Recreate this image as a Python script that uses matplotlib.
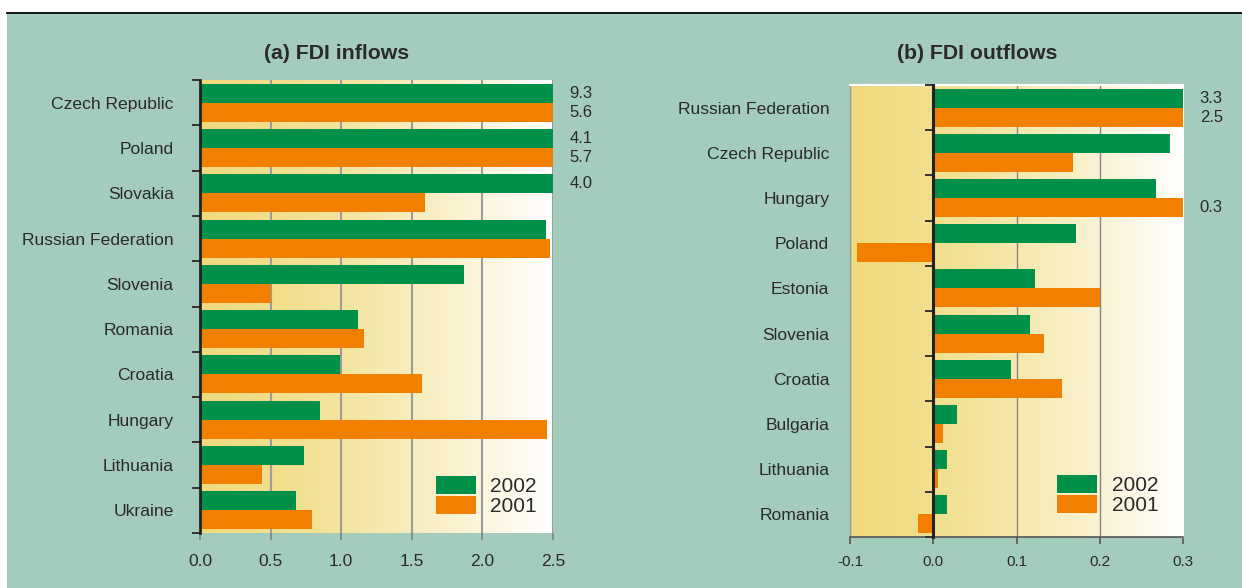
import numpy as np
import matplotlib
matplotlib.use("Agg")
import matplotlib.pyplot as plt
from matplotlib.colors import LinearSegmentedColormap
from matplotlib.patches import Rectangle
from matplotlib.lines import Line2D

plt.rcParams['font.family'] = ['Liberation Sans', 'DejaVu Sans']

# data (% of GDP)
inflow_countries = ["Czech Republic", "Poland", "Slovakia", "Russian Federation", "Slovenia",
                    "Romania", "Croatia", "Hungary", "Lithuania", "Ukraine"]
inflow_2002 = [9.3, 4.1, 4.0, 2.45, 1.87, 1.12, 0.99, 0.85, 0.74, 0.68]
inflow_2001 = [5.6, 5.7, 1.59, 2.48, 0.50, 1.16, 1.57, 2.46, 0.44, 0.79]
inflow_ticks = [0.0, 0.5, 1.0, 1.5, 2.0, 2.5]

outflow_countries = ["Russian Federation", "Czech Republic", "Hungary", "Poland", "Estonia",
                     "Slovenia", "Croatia", "Bulgaria", "Lithuania", "Romania"]
outflow_2002 = [3.3, 0.284, 0.267, 0.172, 0.122, 0.116, 0.093, 0.029, 0.017, 0.017]
outflow_2001 = [2.5, 0.168, 0.31, -0.091, 0.200, 0.133, 0.155, 0.012, 0.006, -0.018]
outflow_ticks = [-0.1, 0.0, 0.1, 0.2, 0.3]

years = ["2002", "2001"]

GREEN = "#00904a"
ORANGE = "#f28000"
BG = "#a4ccbc"
TXT = "#2a2a2a"

cmap = LinearSegmentedColormap.from_list(
    "fade", ["#f0da7c", "#f3e296", "#f9efc6", "#ffffff"])

fig = plt.figure(figsize=(12.42, 5.88), dpi=100, facecolor="white")
fig.add_artist(Rectangle((7 / 1242, 0), 1, 1 - 14 / 588, transform=fig.transFigure,
                         facecolor=BG, edgecolor="none", zorder=-10))
fig.add_artist(Line2D([7 / 1242, 1], [1 - 13 / 588, 1 - 13 / 588], transform=fig.transFigure,
                      color="black", lw=1.3))


def panel(rect, names, v02, v01, ticks, xlim, title, title_x, lbl_pad, tick_fs, tick_pad,
          leg_anchor, grid_lw, grid_col):
    ax = fig.add_axes(rect)
    n = len(names)
    y = np.arange(n)
    ax.set_xlim(*xlim)
    ax.set_ylim(n - 0.5, -0.5)

    grad = np.linspace(0, 1, 256).reshape(1, -1)
    ax.imshow(grad, cmap=cmap, extent=[xlim[0], xlim[1], n - 0.5, -0.5],
              aspect="auto", zorder=0, interpolation="bilinear")

    h = 0.42
    b1 = ax.barh(y - h / 2, v02, height=h, color=GREEN, zorder=3, label=years[0])
    b2 = ax.barh(y + h / 2, v01, height=h, color=ORANGE, zorder=3, label=years[1])

    # labels for bars running past the scale
    for bars, vals in ((b1, v02), (b2, v01)):
        for rect_, v in zip(bars, vals):
            if v >= xlim[1]:
                yc = rect_.get_y() + rect_.get_height() / 2
                ax.annotate(f"{v:.1f}", xy=(xlim[1], yc), xytext=(12, 0),
                            textcoords="offset points", va="center", ha="left",
                            fontsize=12, color=TXT, annotation_clip=False)

    ax.set_xticks(ticks)
    ax.set_xticklabels([f"{t:.1f}" for t in ticks])
    ax.xaxis.grid(True, color=grid_col, lw=grid_lw, zorder=1)
    ax.set_axisbelow(True)
    ax.tick_params(axis="x", length=5, width=1.2, color="#808080",
                   labelsize=tick_fs, labelcolor=TXT, pad=tick_pad)

    ax.set_yticks(y)
    ax.set_yticklabels(names)
    ax.set_yticks(np.arange(n + 1) - 0.5, minor=True)
    ax.tick_params(axis="y", which="major", length=0, labelsize=12.6,
                   labelcolor=TXT, pad=lbl_pad)
    ax.tick_params(axis="y", which="minor", length=0)

    leg = ax.legend(loc="lower left", bbox_to_anchor=leg_anchor, frameon=False,
                    fontsize=15, handlelength=1.9, handleheight=0.95,
                    labelspacing=0.0, handletextpad=0.7, borderpad=0, borderaxespad=0)
    for t in leg.get_texts():
        t.set_color(TXT)

    fig.text(title_x, 1 - 59 / 588, title, ha="center", va="baseline",
             fontsize=15.3, fontweight="bold", color=TXT)
    return ax


# (a) inflows
ax1 = panel([200 / 1242, 1 - 533 / 588, 353 / 1242, 453 / 588],
            inflow_countries, inflow_2002, inflow_2001, inflow_ticks, (0, 2.5),
            "(a) FDI inflows", 337 / 1242, 19, 12.5, 10, (0.669, 0.0375), 1.5, "#9c9c9c")
for s in ("top", "right", "bottom"):
    ax1.spines[s].set_visible(False)
ax1.spines["left"].set_color("#222222")
ax1.spines["left"].set_linewidth(2)
ax1.spines["left"].set_zorder(5)
ax1.tick_params(axis="y", which="minor", length=6, width=1.4, color="#333333")

# (b) outflows
ax2 = panel([850 / 1242, 1 - 537 / 588, 333 / 1242, 452 / 588],
            outflow_countries, outflow_2002, outflow_2001, outflow_ticks, (-0.1, 0.3),
            "(b) FDI outflows", 977 / 1242, 15, 11, 8, (0.623, 0.049), 1.0, "#858585")
ax2.spines["top"].set_color("white")
ax2.spines["right"].set_color("white")
ax2.spines["top"].set_linewidth(1.5)
ax2.spines["right"].set_linewidth(1.5)
ax2.spines["left"].set_color("#9a9a9a")
ax2.spines["bottom"].set_color("#555555")
ax2.spines["bottom"].set_linewidth(1.2)
ax2.tick_params(axis="x", color="#555555")

# category axis sitting on the zero line
zero = ax2.secondary_yaxis(0.25)
zero.set_yticks(np.arange(len(outflow_countries) + 1) - 0.5)
zero.set_yticklabels([])
zero.spines["left"].set_color("#222222")
zero.spines["left"].set_linewidth(2.2)
zero.tick_params(axis="y", length=6, width=1.4, color="#333333")
zero.set_zorder(5)

fig.savefig("out.png", dpi=100, facecolor=fig.get_facecolor())
